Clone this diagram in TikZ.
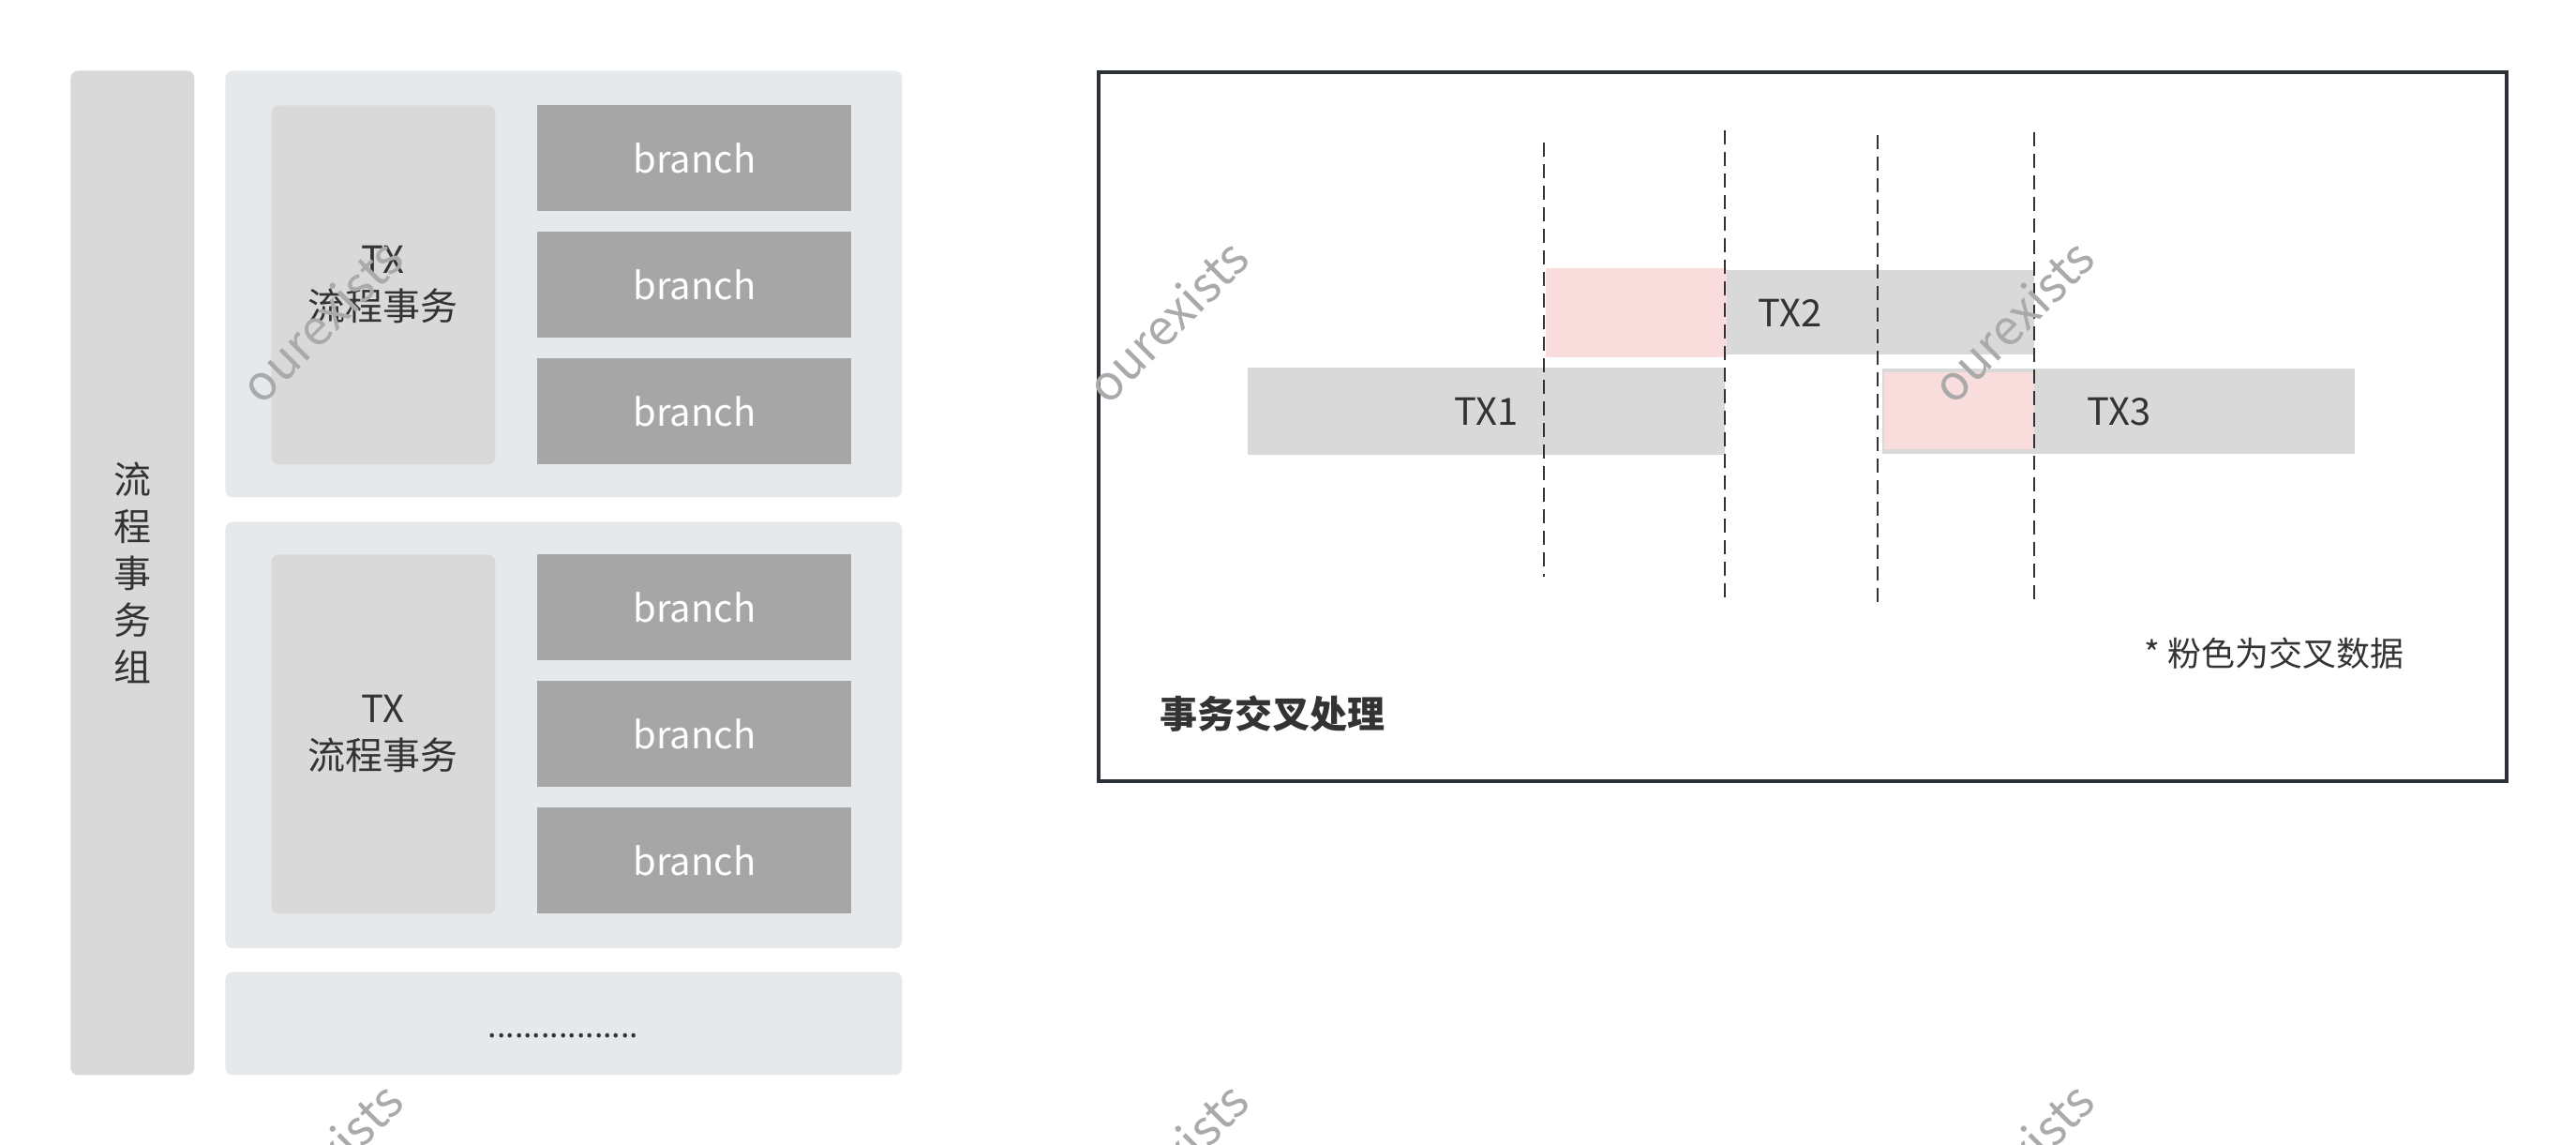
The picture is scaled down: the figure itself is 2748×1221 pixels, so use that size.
\documentclass[tikz,border=0pt]{standalone}
\usepackage{fontspec}
\setmainfont{Noto Sans CJK SC}
\usetikzlibrary{positioning}

\definecolor{barGray}{HTML}{D9D9D9}
\definecolor{groupGray}{HTML}{E6E9EC}
\definecolor{branchGray}{HTML}{A6A6A6}
\definecolor{crossPink}{HTML}{F9DCDC}
\definecolor{frameDark}{HTML}{2B3137}
\definecolor{textDark}{HTML}{333333}
\definecolor{markGray}{HTML}{AAAAAA}

\begin{document}
\begin{tikzpicture}[
  x=0.5pt,y=-0.5pt,
  node distance=10.5pt,
  every node/.style={font=\fontsize{20pt}{25pt}\selectfont,text=textDark,inner sep=0pt},
  panel/.style={fill=groupGray,rounded corners=4pt,minimum width=361pt,anchor=north west},
  txbox/.style={fill=barGray,rounded corners=4pt,minimum width=119.5pt,minimum height=191.5pt,anchor=north west,align=center},
  branch/.style={fill=branchGray,text=white,minimum width=167.5pt,minimum height=56.5pt},
  txbar/.style={fill=barGray,anchor=north west},
  cross/.style={fill=crossPink,anchor=north west},
  marker/.style={textDark,line width=1pt,dash pattern=on 7.5pt off 4pt},
  watermark/.style={text=markGray,rotate=45,font=\fontsize{26pt}{30pt}\selectfont}
]
  \useasboundingbox (0,0) rectangle (2748,1221);

  % left: group of flow transactions
  \node[fill=barGray,rounded corners=4pt,anchor=north west,minimum width=66pt,minimum height=535.5pt,align=center]
    (group) at (75,75) {流\\程\\事\\务\\组};

  \node[panel,minimum height=227.5pt] (txa) at (240,75) {};
  \node[txbox] (txaflow) at (289,112) {TX\\流程事务};
  \node[branch,anchor=north west] (txa1) at (573,112) {branch};
  \node[branch,below=of txa1] (txa2) {branch};
  \node[branch,below=of txa2] (txa3) {branch};

  \node[panel,minimum height=227.5pt] (txb) at (240,556) {};
  \node[txbox] (txbflow) at (289,591) {TX\\流程事务};
  \node[branch,anchor=north west] (txb1) at (573,591) {branch};
  \node[branch,below=of txb1] (txb2) {branch};
  \node[branch,below=of txb2] (txb3) {branch};

  \node[panel,minimum height=55pt] (more) at (240,1036) {};
  \node[anchor=base,font=\fontsize{17pt}{20pt}\selectfont] (dots) at (601,1106) {.................};

  % right: crossing transactions
  \node[draw=frameDark,line width=2pt,minimum width=751pt,minimum height=378pt,anchor=north west]
    (frame) at (1170,75) {};

  \node[txbar,minimum width=254.5pt,minimum height=46.5pt] (tx1) at (1331,392) {TX1};
  \node[txbar,minimum width=260.5pt,minimum height=45pt] (tx2) at (1649,288) {TX2};
  \node[cross,minimum width=96.5pt,minimum height=47.5pt] (cross2) at (1649,286) {};
  \node[txbar,minimum width=252pt,minimum height=45.5pt] (tx3) at (2008,393) {TX3};
  \node[cross,minimum width=80pt,minimum height=41pt] (cross3) at (2010,397) {};

  \foreach \x/\top/\bot in {1647/152/615,1840/139/637,2003/144/642,2170/141/639}
    \draw[marker] (\x,\top) -- (\x,\bot);

  \node[anchor=west,font=\fontsize{18pt}{22pt}\selectfont] (note) at (2287,697) {* 粉色为交叉数据};
  \node[anchor=west,font=\fontsize{20pt}{25pt}\selectfont\bfseries] (title) at (1237,761) {事务交叉处理};

  % watermarks
  \foreach \x in {343,1245,2147}
    \foreach \y in {342,1241}
      \node[watermark] (mark-\x-\y) at (\x,\y) {ourexists};
\end{tikzpicture}
\end{document}
